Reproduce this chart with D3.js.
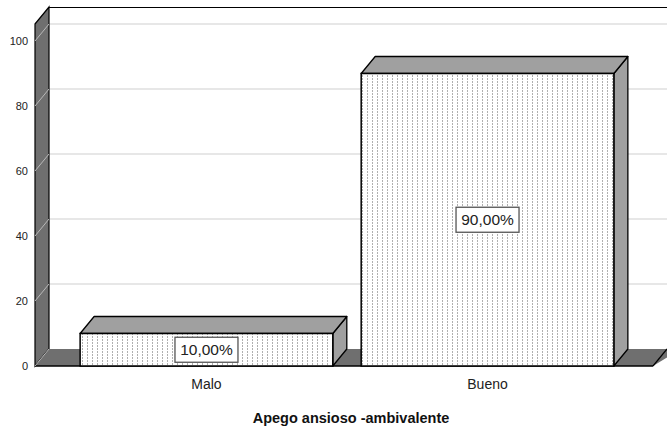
<!DOCTYPE html>
<html><head><meta charset="utf-8">
<script src="https://cdn.jsdelivr.net/npm/d3@7/dist/d3.min.js"></script>
<style>body{margin:0;background:#fff}svg{display:block}text{font-family:"Liberation Sans",Arial,sans-serif}</style>
</head><body>
<svg id="c" width="667" height="430"></svg>
<script>
const categories = ["Malo", "Bueno"];
const values = [10, 90];
const valueLabels = ["10,00%", "90,00%"];
const yTicks = [0, 20, 40, 60, 80, 100];
const xTitle = "Apego ansioso -ambivalente";

const svg = d3.select("#c");
const dx = 14, dy = -17;
const x = d3.scaleBand().domain(categories).range([45, 649]).paddingInner(0.101).paddingOuter(0.125);
const y = d3.scaleLinear().domain([0, 100]).range([366, 41]);
const left = 35, rightBack = 667, rightFront = 653;
const topBack = 7;

// pattern
const defs = svg.append("defs");
const pat = defs.append("pattern").attr("id","dots").attr("patternUnits","userSpaceOnUse")
  .attr("width",5).attr("height",3).attr("x",0).attr("y",0);
pat.append("rect").attr("width",5).attr("height",3).attr("fill","#fff");
pat.append("rect").attr("x",2).attr("y",0).attr("width",1).attr("height",2).attr("fill","#b0b0b0");

// back plane
svg.append("rect").attr("x", left+dx).attr("y", topBack).attr("width", rightBack-left-dx+5)
  .attr("height", y(0)+dy-topBack).attr("fill","#fff");
svg.append("line").attr("x1", left+dx).attr("x2", rightBack).attr("y1", topBack+0.5).attr("y2", topBack+0.5)
  .attr("stroke","#000").attr("stroke-width",1.2);

// gridlines on back
svg.append("g").selectAll("line").data(yTicks.filter(d=>d>0)).join("line")
  .attr("x1", left+dx).attr("x2", rightBack)
  .attr("y1", d=>y(d)+dy).attr("y2", d=>y(d)+dy)
  .attr("stroke","#d0d0d0").attr("stroke-width",1.2);

// left wall
svg.append("path").attr("d", `M${left},${topBack-dy} L${left+dx},${topBack} L${left+dx},${y(0)+dy} L${left},${y(0)} Z`)
  .attr("fill","#6f6f6f").attr("stroke","#000").attr("stroke-width",1.2);
svg.append("g").selectAll("line").data(yTicks.filter(d=>d>0)).join("line")
  .attr("x1", left).attr("x2", left+dx)
  .attr("y1", d=>y(d)).attr("y2", d=>y(d)+dy)
  .attr("stroke","#b8b8b8").attr("stroke-width",1);

// floor
svg.append("path").attr("d", `M${left},${y(0)} L${left+dx},${y(0)+dy} L${rightBack+dx},${y(0)+dy} L${rightFront},${y(0)} Z`)
  .attr("fill","#6f6f6f").attr("stroke","none");
svg.append("line").attr("x1", left).attr("x2", rightFront).attr("y1", y(0)).attr("y2", y(0))
  .attr("stroke","#000").attr("stroke-width",1.5);
svg.append("line").attr("x1", left).attr("x2", left+dx).attr("y1", y(0)).attr("y2", y(0)+dy)
  .attr("stroke","#b8b8b8").attr("stroke-width",1);
svg.append("line").attr("x1", rightFront).attr("x2", rightFront+dx).attr("y1", y(0)).attr("y2", y(0)+dy)
  .attr("stroke","#000").attr("stroke-width",1.2);

// y tick labels
svg.append("g").selectAll("text").data(yTicks).join("text")
  .attr("x", 28).attr("y", d=>y(d)+4).attr("text-anchor","end")
  .attr("font-size",11).attr("fill","#222").text(d=>d);

// bars
const bars = svg.append("g").selectAll("g").data(categories).join("g");
bars.each(function(c, i){
  const g = d3.select(this);
  const x0 = x(c), x1 = x(c)+x.bandwidth(), yt = y(values[i]), yb = y(0);
  g.append("path").attr("d", `M${x1},${yt} L${x1+dx},${yt+dy} L${x1+dx},${yb+dy} L${x1},${yb} Z`)
    .attr("fill","#a0a0a0").attr("stroke","#000").attr("stroke-width",1.3).attr("stroke-linejoin","round");
  g.append("path").attr("d", `M${x0},${yt} L${x0+dx},${yt+dy} L${x1+dx},${yt+dy} L${x1},${yt} Z`)
    .attr("fill","#a0a0a0").attr("stroke","#000").attr("stroke-width",1.3).attr("stroke-linejoin","round");
  g.append("rect").attr("x", x0).attr("y", yt).attr("width", x.bandwidth()).attr("height", yb-yt)
    .attr("fill","url(#dots)").attr("stroke","#000").attr("stroke-width",1.5);
  const cx = x0 + x.bandwidth()/2, cy = (yt+yb)/2;
  g.append("rect").attr("x", cx-31.5).attr("y", cy-12.5).attr("width",63).attr("height",25)
    .attr("fill","#fff").attr("stroke","#555").attr("stroke-width",1.3);
  g.append("text").attr("x", cx).attr("y", cy+5.5).attr("text-anchor","middle")
    .attr("font-size",15.5).attr("fill","#222").text(valueLabels[i]);
});

// category labels
svg.append("g").selectAll("text").data(categories).join("text")
  .attr("x", d=>x(d)+x.bandwidth()/2).attr("y", 389).attr("text-anchor","middle")
  .attr("font-size",14).attr("fill","#222").text(d=>d);

svg.append("text").attr("x", 351).attr("y", 423).attr("text-anchor","middle")
  .attr("font-size",14.5).attr("font-weight","bold").attr("fill","#111").text(xTitle);
</script>
</body></html>
